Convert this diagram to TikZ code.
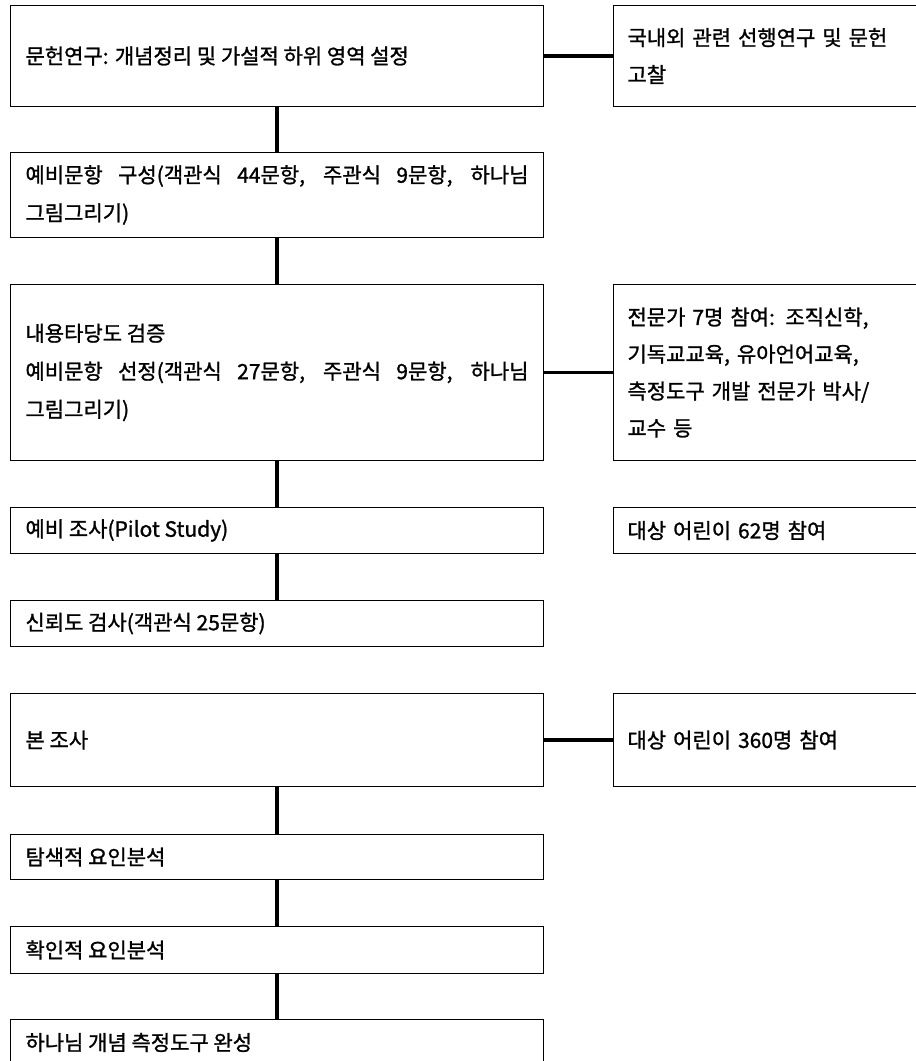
\documentclass[tikz,border=0pt]{standalone}
\usepackage{fontspec}
\setmainfont{Noto Sans CJK KR}[FakeBold=1.2]
\usetikzlibrary{positioning}

\begin{document}
\begin{tikzpicture}[x=1pt, y=-1pt,
    leftbox/.style={draw, line width=1pt, anchor=north west, minimum width=533pt,
        text width=503pt, inner xsep=15pt, inner ysep=0pt, align=justify,
        font=\fontsize{21}{38}\selectfont},
    sidebox/.style={draw, line width=1pt, anchor=north west, minimum width=330pt,
        text width=302pt, inner xsep=14pt, inner ysep=0pt, align=left,
        font=\fontsize{21}{37}\selectfont},
    link/.style={line width=3.5pt}]
    \clip (0,0) rectangle (916,1061);

    % Main steps
    \node (lit) at (10,5) [leftbox, minimum height=101pt] {문헌연구: 개념정리 및 가설적 하위 영역 설정};
    \node (pre) at (10,152) [leftbox, minimum height=85pt] {예비문항 구성(객관식 44문항, 주관식 9문항, 하나님\linebreak 그림그리기)};
    \node (valid) at (10,284) [leftbox, minimum height=176pt] {내용타당도 검증\\ 예비문항 선정(객관식 27문항, 주관식 9문항, 하나님\linebreak 그림그리기)};
    \node (pilot) at (10,507) [leftbox, minimum height=46pt] {예비 조사(Pilot Study)};
    \node (rel) at (10,600) [leftbox, minimum height=46pt] {신뢰도 검사(객관식 25문항)};
    \node (main) at (10,693) [leftbox, minimum height=93pt] {본 조사};
    \node (efa) at (10,834) [leftbox, minimum height=45pt] {탐색적 요인분석};
    \node (cfa) at (10,926) [leftbox, minimum height=47pt] {확인적 요인분석};
    \node (done) at (10,1019) [leftbox, minimum height=46pt] {하나님 개념 측정도구 완성};

    % Side notes
    \node (lit-r) at (613,5) [sidebox, minimum height=101pt] {국내외 관련 선행연구 및 문헌\\ 고찰};
    \node (valid-r) at (613,284) [sidebox, minimum height=176pt] {전문가 7명 참여: 조직신학,\\ 기독교교육, 유아언어교육,\\ 측정도구 개발 전문가 박사/\\ 교수 등};
    \node (pilot-r) at (613,507) [sidebox, minimum height=46pt] {대상 어린이 62명 참여};
    \node (main-r) at (613,693) [sidebox, minimum height=93pt] {대상 어린이 360명 참여};

    % Connections
    \draw[link] (lit.south) -- (pre.north);
    \draw[link] (pre.south) -- (valid.north);
    \draw[link] (valid.south) -- (pilot.north);
    \draw[link] (pilot.south) -- (rel.north);
    \draw[link] (main.south) -- (efa.north);
    \draw[link] (efa.south) -- (cfa.north);
    \draw[link] (cfa.south) -- (done.north);

    \draw[link] (lit.east) -- (lit-r.west);
    \draw[link] (valid.east) -- (valid-r.west);
    \draw[link] (main.east) -- (main-r.west);
\end{tikzpicture}
\end{document}
